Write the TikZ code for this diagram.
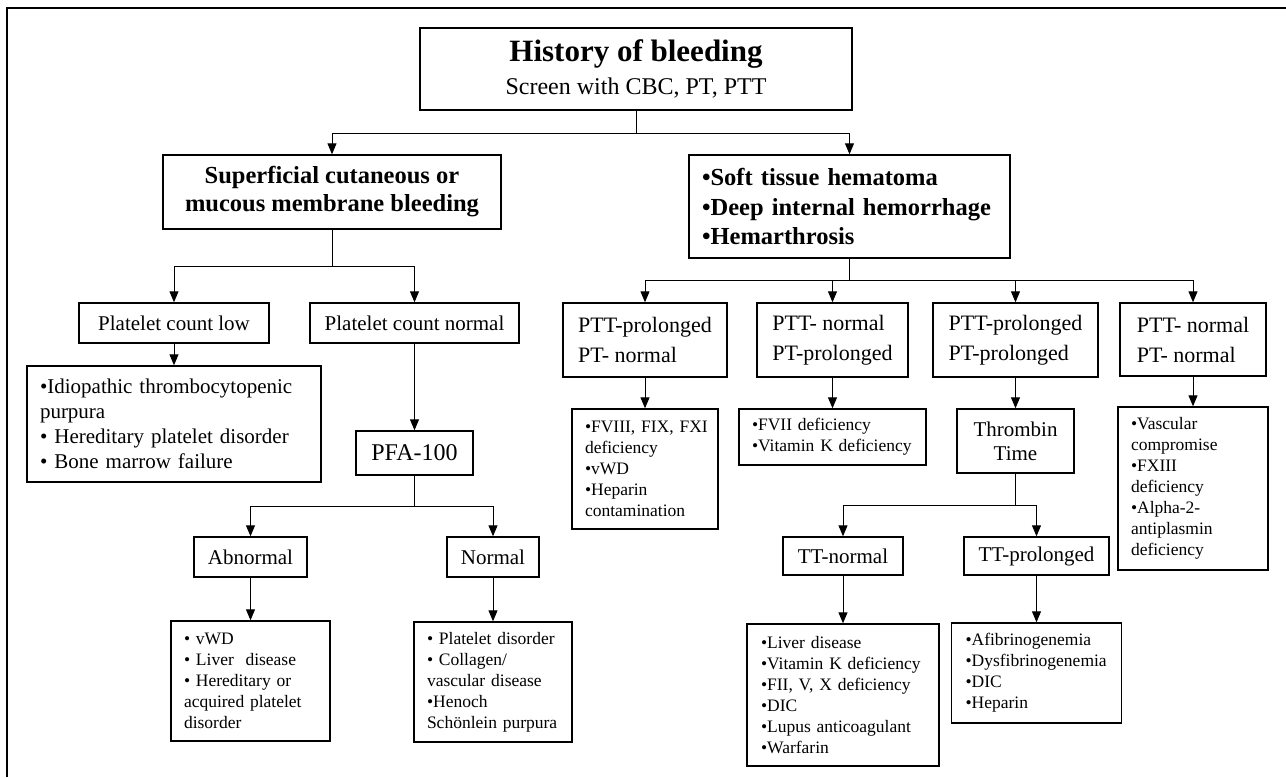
\documentclass[tikz,border=0pt]{standalone}
\usepackage{fontspec}
\setmainfont{Liberation Serif}
\usepackage{tikz}
\usetikzlibrary{arrows.meta}

\newcommand{\fsz}[2]{\fontsize{#1}{#2}\selectfont}

\begin{document}
\begin{tikzpicture}
          \tikzstyle{box}=[rectangle,draw=black,line width=1.4pt,inner sep=0pt,align=center]
          \tikzstyle{list}=[box,align=left,inner xsep=13pt]
          \tikzstyle{arr}=[line width=1pt,-{Triangle[length=11pt,width=9pt]}]

          \useasboundingbox (0,0) rectangle (1286pt,-777pt);
          \draw[line width=1.6pt] (7pt,-777pt) -- (7pt,-8pt) -- (1286pt,-8pt);

          % top of the tree
          \node[box,minimum width=432pt,minimum height=82pt] (root) at (636pt,-69pt)
            {{\fsz{31}{32}\bfseries History of bleeding}\\[8pt]{\fsz{24}{28}Screen with CBC, PT, PTT}};
          \node[box,node distance=123pt,below of=root,xshift=-304pt,minimum width=338pt,minimum height=74pt,font=\fsz{24.5}{28}\bfseries] (sup)
            {Superficial cutaneous or\\mucous membrane bleeding};
          \node[list,node distance=137.5pt,below of=root,xshift=213.5pt,text width=295pt,inner xsep=13pt,minimum height=103pt,font=\fsz{24.5}{29.5}\bfseries] (soft)
            {•Soft tissue hematoma\\•Deep internal hemorrhage\\•Hemarthrosis};

          % left branch
          \node[box,node distance=131pt,below of=sup,xshift=-158pt,minimum width=190pt,minimum height=40pt,font=\fsz{21}{25}] (low) {Platelet count low};
          \node[box,node distance=131pt,below of=sup,xshift=82.5pt,minimum width=209pt,minimum height=40pt,font=\fsz{21}{25}] (norm) {Platelet count normal};
          \node[list,node distance=101pt,below of=low,text width=268pt,minimum height=116pt,font=\fsz{21}{25}] (itp)
            {•Idiopathic thrombocytopenic\\purpura\\• Hereditary platelet disorder\\• Bone marrow failure};
          \node[box,node distance=130pt,below of=norm,minimum width=117pt,minimum height=44pt,font=\fsz{24}{28}] (pfa) {PFA-100};
          \node[box,node distance=104pt,below of=pfa,xshift=-164pt,minimum width=113pt,minimum height=40pt,font=\fsz{21}{25}] (abn) {Abnormal};
          \node[box,node distance=104pt,below of=pfa,xshift=78.5pt,minimum width=92pt,minimum height=40pt,font=\fsz{21}{25}] (nrm) {Normal};
          \node[list,node distance=124pt,below of=abn,text width=133pt,minimum height=120pt,font=\fsz{17.5}{21}] (vwd)
            {• vWD\\• Liver\ \ disease\\• Hereditary or\\acquired platelet\\disorder};
          \node[list,node distance=125pt,below of=nrm,text width=132pt,minimum height=120pt,font=\fsz{17.5}{21}] (plt)
            {• Platelet disorder\\• Collagen/\\vascular disease\\•Henoch\\Schönlein purpura};

          % right branch
          \node[box,align=left,node distance=133.5pt,below of=soft,xshift=-204.5pt,minimum width=164pt,minimum height=74pt,font=\fsz{22}{30}] (ptta)
            {PTT-prolonged\\PT- normal};
          \node[box,align=left,node distance=133.5pt,below of=soft,xshift=-17pt,minimum width=151pt,minimum height=74pt,font=\fsz{22}{30}] (pttb)
            {PTT- normal\\PT-prolonged};
          \node[box,align=left,node distance=133.5pt,below of=soft,xshift=166pt,minimum width=165pt,minimum height=74pt,font=\fsz{22}{30}] (pttc)
            {PTT-prolonged\\PT-prolonged};
          \node[box,align=left,node distance=133pt,below of=soft,xshift=343.5pt,minimum width=146pt,minimum height=73pt,font=\fsz{22}{30}] (pttd)
            {PTT- normal\\PT- normal};
          \node[list,node distance=129pt,below of=ptta,text width=128pt,inner xsep=9pt,minimum height=120pt,font=\fsz{17.5}{21}] (fviii)
            {\hspace*{4pt}•FVIII, FIX, FXI\\\hspace*{4pt}deficiency\\\hspace*{4pt}•vWD\\\hspace*{4pt}•Heparin\\\hspace*{4pt}contamination};
          \node[list,node distance=97pt,below of=pttb,text width=161pt,minimum height=56pt,font=\fsz{17.5}{21}] (fvii)
            {•FVII deficiency\\•Vitamin K deficiency};
          \node[box,node distance=101pt,below of=pttc,minimum width=117pt,minimum height=64pt,font=\fsz{21}{24}] (tt)
            {Thrombin\\Time};
          \node[list,node distance=149pt,below of=pttd,text width=124pt,minimum height=163pt,font=\fsz{17.5}{21}] (vasc)
            {•Vascular\\compromise\\•FXIII\\deficiency\\•Alpha-2-\\antiplasmin\\deficiency};
          \node[box,node distance=115pt,below of=tt,xshift=-172.5pt,minimum width=120pt,minimum height=38pt,font=\fsz{21}{25}] (ttn) {TT-normal};
          \node[box,node distance=115pt,below of=tt,xshift=21pt,minimum width=145pt,minimum height=38pt,font=\fsz{21}{25}] (ttp) {TT-prolonged};
          \node[list,node distance=139pt,below of=ttn,text width=164pt,inner xsep=14pt,minimum height=142pt,font=\fsz{17.5}{21}] (liver)
            {•Liver disease\\•Vitamin K deficiency\\•FII, V, X deficiency\\•DIC\\•Lupus anticoagulant\\•Warfarin};
          \node[list,node distance=117pt,below of=ttp,text width=142pt,inner xsep=14pt,minimum height=100pt,font=\fsz{17.5}{21}] (afib)
            {•Afibrinogenemia\\•Dysfibrinogenemia\\•DIC\\•Heparin};

          % connectors
          \draw[arr] (root.south) -- ++(0,-23pt) -| (sup.north);
          \draw[arr] (root.south) -- ++(0,-23pt) -| (soft.north);
          \draw[arr] (sup.south) -- ++(0,-37pt) -| (low.north);
          \draw[arr] (sup.south) -- ++(0,-37pt) -| (norm.north);
          \draw[arr] (pfa.south) -- ++(0,-31pt) -| (abn.north);
          \draw[arr] (pfa.south) -- ++(0,-31pt) -| (nrm.north);
          \draw[arr] (soft.south) -- ++(0,-22pt) -| (ptta.north);
          \draw[arr] (soft.south) -- ++(0,-22pt) -| (pttb.north);
          \draw[arr] (soft.south) -- ++(0,-22pt) -| (pttc.north);
          \draw[arr] (soft.south) -- ++(0,-22pt) -| (pttd.north);
          \draw[arr] (tt.south) -- ++(0,-32pt) -| (ttn.north);
          \draw[arr] (tt.south) -- ++(0,-32pt) -| (ttp.north);

          \path[arr]
          (low.south) edge (itp.north)
          (norm.south) edge (pfa.north)
          (abn.south) edge (vwd.north)
          (nrm.south) edge (plt.north)
          (ptta.south) edge (fviii.north)
          (pttb.south) edge (fvii.north)
          (pttc.south) edge (tt.north)
          (pttd.south) edge (vasc.north)
          (ttn.south) edge (liver.north)
          (ttp.south) edge (afib.north);
        \end{tikzpicture}
\end{document}
